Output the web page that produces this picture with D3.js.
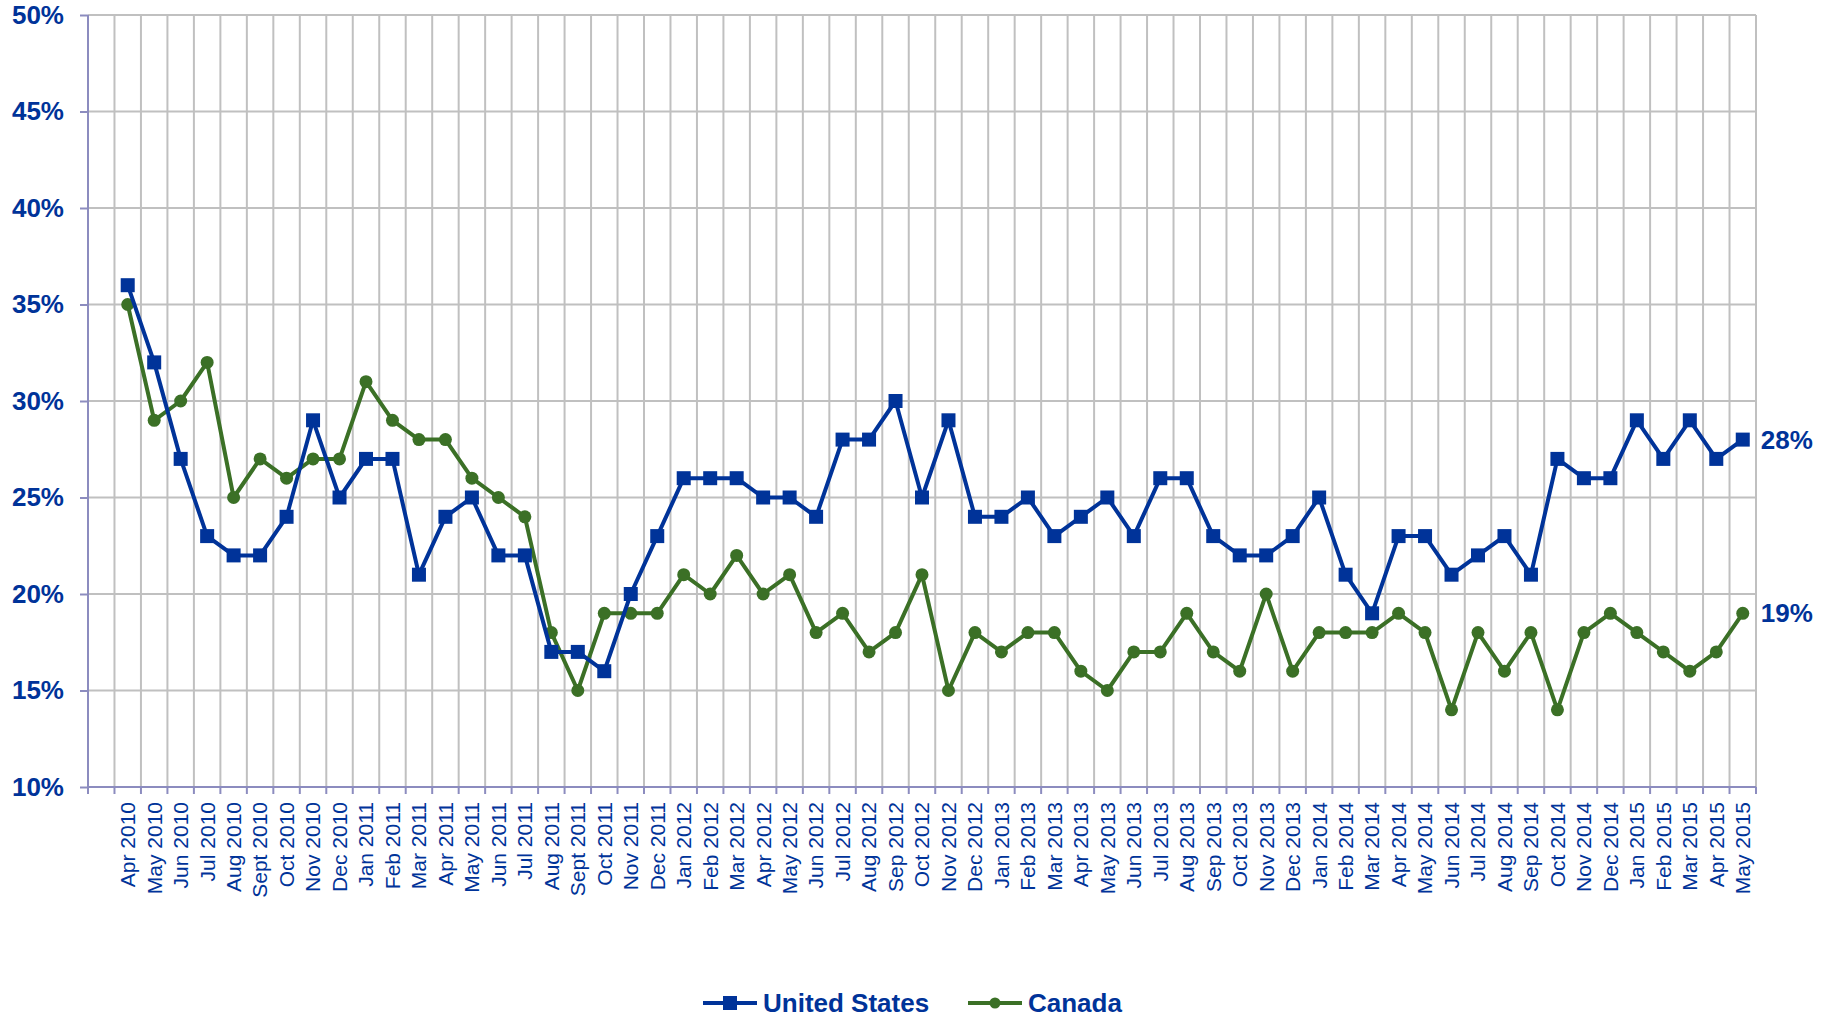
<!DOCTYPE html>
<html>
<head>
<meta charset="utf-8">
<script src="https://cdn.jsdelivr.net/npm/d3@7"></script>
<style>
  body { margin: 0; background: #fff; }
  svg { display: block; font-family: "Liberation Sans", Arial, sans-serif; }
  .grid line { stroke: #c0c0c0; stroke-width: 2; }
  .axis path, .axis line { stroke: #8c8cbf; stroke-width: 2; }
  .axis text { fill: #003399; }
</style>
</head>
<body>
<div id="chart"></div>
<script>
var months = ["Apr 2010","May 2010","Jun 2010","Jul 2010","Aug 2010","Sept 2010","Oct 2010","Nov 2010","Dec 2010",
  "Jan 2011","Feb 2011","Mar 2011","Apr 2011","May 2011","Jun 2011","Jul 2011","Aug 2011","Sept 2011","Oct 2011","Nov 2011","Dec 2011",
  "Jan 2012","Feb 2012","Mar 2012","Apr 2012","May 2012","Jun 2012","Jul 2012","Aug 2012","Sep 2012","Oct 2012","Nov 2012","Dec 2012",
  "Jan 2013","Feb 2013","Mar 2013","Apr 2013","May 2013","Jun 2013","Jul 2013","Aug 2013","Sep 2013","Oct 2013","Nov 2013","Dec 2013",
  "Jan 2014","Feb 2014","Mar 2014","Apr 2014","May 2014","Jun 2014","Jul 2014","Aug 2014","Sep 2014","Oct 2014","Nov 2014","Dec 2014",
  "Jan 2015","Feb 2015","Mar 2015","Apr 2015","May 2015"];

var usValues = [36,32,27,23,22,22,24,29,25,
  27,27,21,24,25,22,22,17,17,16,20,23,
  26,26,26,25,25,24,28,28,30,25,29,24,
  24,25,23,24,25,23,26,26,23,22,22,23,
  25,21,19,23,23,21,22,23,21,27,26,26,
  29,27,29,27,28];

var canadaValues = [35,29,30,32,25,27,26,27,27,
  31,29,28,28,26,25,24,18,15,19,19,19,
  21,20,22,20,21,18,19,17,18,21,15,18,
  17,18,18,16,15,17,17,19,17,16,20,16,
  18,18,18,19,18,14,18,16,18,14,18,19,
  18,17,16,17,19];

var yTicks = [10,15,20,25,30,35,40,45,50];

var seriesNames = ["United States", "Canada"];

var width = 1826, height = 1017;
var plotLeft = 88, plotRight = 1756, plotTop = 15, plotBottom = 787;
var blue = "#003399", green = "#3b7026";

var svg = d3.select("#chart").append("svg")
    .attr("width", width)
    .attr("height", height);

// one empty slot before Apr 2010, like the original
var x = d3.scaleLinear().domain([0, months.length + 1]).range([plotLeft, plotRight]);
var xPos = function(i) { return x(i + 1.5); };
var y = d3.scaleLinear().domain([10, 50]).range([plotBottom, plotTop]);

// grid
var grid = svg.append("g").attr("class", "grid");
grid.selectAll("line.h")
  .data(yTicks.slice(1))
  .enter().append("line")
    .attr("x1", plotLeft).attr("x2", plotRight)
    .attr("y1", y).attr("y2", y);
grid.selectAll("line.v")
  .data(d3.range(1, months.length + 2))
  .enter().append("line")
    .attr("x1", x).attr("x2", x)
    .attr("y1", plotTop).attr("y2", plotBottom);

// y axis
svg.append("g")
    .attr("class", "axis")
    .attr("transform", "translate(" + plotLeft + ",0)")
    .call(d3.axisLeft(y).tickValues(yTicks).tickSize(8).tickPadding(16).tickFormat(function(d) { return d + "%"; }))
    .call(function(g) { g.select(".domain").attr("d", "M0," + plotTop + "V" + plotBottom); })
    .selectAll("text")
    .attr("font-size", 26)
    .attr("font-weight", "bold");

// x axis
var xAxis = svg.append("g")
    .attr("class", "axis")
    .attr("transform", "translate(0," + plotBottom + ")");
xAxis.append("path")
    .attr("class", "domain")
    .attr("d", "M" + plotLeft + ",0H" + plotRight);
xAxis.selectAll("line")
  .data(d3.range(0, months.length + 2))
  .enter().append("line")
    .attr("x1", x).attr("x2", x)
    .attr("y1", 0).attr("y2", 7);
xAxis.selectAll("text")
  .data(months)
  .enter().append("text")
    .attr("transform", function(d, i) { return "translate(" + xPos(i) + ",15) rotate(-90)"; })
    .attr("text-anchor", "end")
    .attr("dy", "0.35em")
    .attr("font-size", 21)
    .text(function(d) { return d; });

// lines
var line = d3.line()
    .x(function(d, i) { return xPos(i); })
    .y(function(d) { return y(d); });

svg.append("path")
    .datum(canadaValues)
    .attr("fill", "none")
    .attr("stroke", green)
    .attr("stroke-width", 4)
    .attr("stroke-linejoin", "round")
    .attr("d", line);

svg.append("g").selectAll("circle")
  .data(canadaValues)
  .enter().append("circle")
    .attr("cx", function(d, i) { return xPos(i); })
    .attr("cy", y)
    .attr("r", 6.5)
    .attr("fill", green);

svg.append("path")
    .datum(usValues)
    .attr("fill", "none")
    .attr("stroke", blue)
    .attr("stroke-width", 4)
    .attr("stroke-linejoin", "round")
    .attr("d", line);

svg.append("g").selectAll("rect")
  .data(usValues)
  .enter().append("rect")
    .attr("x", function(d, i) { return xPos(i) - 7; })
    .attr("y", function(d) { return y(d) - 7; })
    .attr("width", 14)
    .attr("height", 14)
    .attr("fill", blue);

// end labels
var last = months.length - 1;
[usValues, canadaValues].forEach(function(vals) {
  svg.append("text")
      .attr("x", xPos(last) + 18)
      .attr("y", y(vals[last]))
      .attr("dy", "0.35em")
      .attr("font-size", 26)
      .attr("font-weight", "bold")
      .attr("fill", blue)
      .text(vals[last] + "%");
});

// legend
var legend = svg.append("g").attr("transform", "translate(0,1003)");
var legendItems = [{name: seriesNames[0], color: blue, x: 703, shape: "rect"},
                   {name: seriesNames[1], color: green, x: 968, shape: "circle"}];
legendItems.forEach(function(d) {
  legend.append("line")
      .attr("x1", d.x).attr("x2", d.x + 54)
      .attr("y1", 0).attr("y2", 0)
      .attr("stroke", d.color)
      .attr("stroke-width", 4);
  if (d.shape == "rect") {
    legend.append("rect")
        .attr("x", d.x + 27 - 7).attr("y", -7)
        .attr("width", 14).attr("height", 14)
        .attr("fill", d.color);
  } else {
    legend.append("circle")
        .attr("cx", d.x + 27).attr("cy", 0)
        .attr("r", 5.5)
        .attr("fill", d.color);
  }
  legend.append("text")
      .attr("x", d.x + 60)
      .attr("dy", "0.35em")
      .attr("font-size", 26)
      .attr("font-weight", "bold")
      .attr("fill", blue)
      .text(d.name);
});
</script>
</body>
</html>
